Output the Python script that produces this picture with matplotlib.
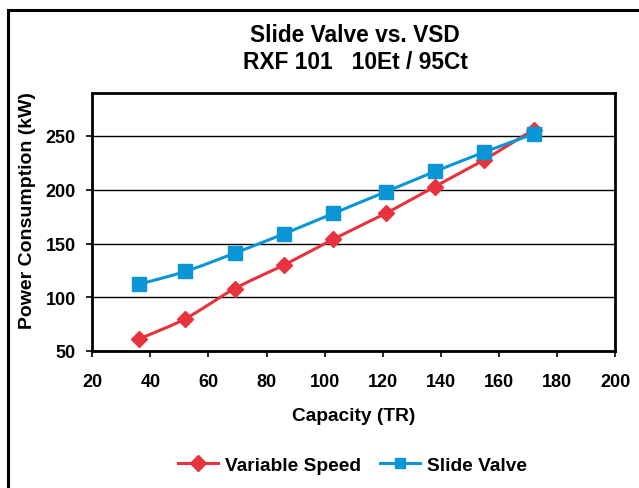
import numpy as np
import matplotlib
matplotlib.use("Agg")
import matplotlib.pyplot as plt
from matplotlib.lines import Line2D

# ---- data ----
capacity = [36, 52, 69, 86, 103, 121, 138, 155, 172]
variable_speed = [61, 80, 108, 130, 154, 178, 203, 228, 256]
slide_valve = [112, 124, 141, 159, 178, 198, 217, 235, 252]
series_names = ["Variable Speed", "Slide Valve"]
x_ticks = [20, 40, 60, 80, 100, 120, 140, 160, 180, 200]
y_ticks = [50, 100, 150, 200, 250]
title_lines = ["Slide Valve vs. VSD", "RXF 101   10Et / 95Ct"]

plt.rcParams['font.family'] = ['Liberation Sans', 'DejaVu Sans']
plt.rcParams['font.weight'] = 'bold'


def smooth(x, y, n=30):
    x = np.asarray(x, float); y = np.asarray(y, float)
    px = np.concatenate([[2 * x[0] - x[1]], x, [2 * x[-1] - x[-2]]])
    py = np.concatenate([[2 * y[0] - y[1]], y, [2 * y[-1] - y[-2]]])
    xs, ys = [], []
    t = np.linspace(0, 1, n)
    for i in range(1, len(px) - 2):
        for P, out in ((px, xs), (py, ys)):
            p0, p1, p2, p3 = P[i - 1], P[i], P[i + 1], P[i + 2]
            out.extend(0.5 * ((2 * p1) + (-p0 + p2) * t + (2 * p0 - 5 * p1 + 4 * p2 - p3) * t ** 2
                              + (-p0 + 3 * p1 - 3 * p2 + p3) * t ** 3))
    return xs, ys


red = "#E8323C"
blue = "#0A96D6"

fig = plt.figure(figsize=(6.39, 4.89), dpi=100)
ax = fig.add_axes([92.3 / 639, 1 - 352 / 489, (615 - 92.3) / 639, (352 - 94) / 489])

sx, sy = smooth(capacity, variable_speed)
ax.plot(sx, sy, color=red, lw=2.2, zorder=3)
ax.plot(capacity, variable_speed, ls='none', marker='D', ms=8, color=red, zorder=4)
bx, by = smooth(capacity, slide_valve)
ax.plot(bx, by, color=blue, lw=2.2, zorder=3)
ax.plot(capacity, slide_valve, ls='none', marker='s', ms=9.5, color=blue, zorder=5)

ax.set_xlim(20, 200)
ax.set_ylim(50, 290)
ax.set_xticks(x_ticks)
ax.set_yticks(y_ticks)
ax.grid(axis='y', color='black', lw=1.0)
ax.set_axisbelow(True)
for s in ax.spines.values():
    s.set_linewidth(2.0)
    s.set_color('black')
ax.tick_params(direction='out', length=4, width=1.2, labelsize=13)
ax.tick_params(axis='x', pad=12)
ax.tick_params(axis='y', pad=8)
for lab in ax.get_xticklabels() + ax.get_yticklabels():
    lab.set_fontweight('bold')

ax.set_xlabel("Capacity (TR)", fontsize=13.8, fontweight='bold', labelpad=12)
ax.set_ylabel("Power Consumption (kW)", fontsize=14, fontweight='bold', labelpad=6)
ax.yaxis.set_label_coords(-0.108, 0.548)

fig.text(355 / 639, 1 - 36 / 489, title_lines[0], ha='center', va='center',
         fontsize=16.4, fontweight='bold')
fig.text(355 / 639, 1 - 62.5 / 489, title_lines[1], ha='center', va='center',
         fontsize=16.4, fontweight='bold')

handles = [Line2D([], [], color=red, lw=2.2, marker='D', ms=8),
           Line2D([], [], color=blue, lw=2.2, marker='s', ms=7.5)]
fig.legend(handles, series_names, loc='center', bbox_to_anchor=(352.5 / 639, 1 - 466 / 489),
           ncol=2, frameon=False, handlelength=2.1, columnspacing=1.0, handletextpad=0.35,
           prop={'weight': 'bold', 'size': 13.8})

fig.add_artist(Line2D([8 / 639, 8 / 639], [0, 1 - 11 / 489], transform=fig.transFigure,
                      color='black', lw=2.2))
fig.add_artist(Line2D([8 / 639, 1], [1 - 11 / 489, 1 - 11 / 489], transform=fig.transFigure,
                      color='black', lw=2.2))

fig.savefig("out.png", dpi=100)
